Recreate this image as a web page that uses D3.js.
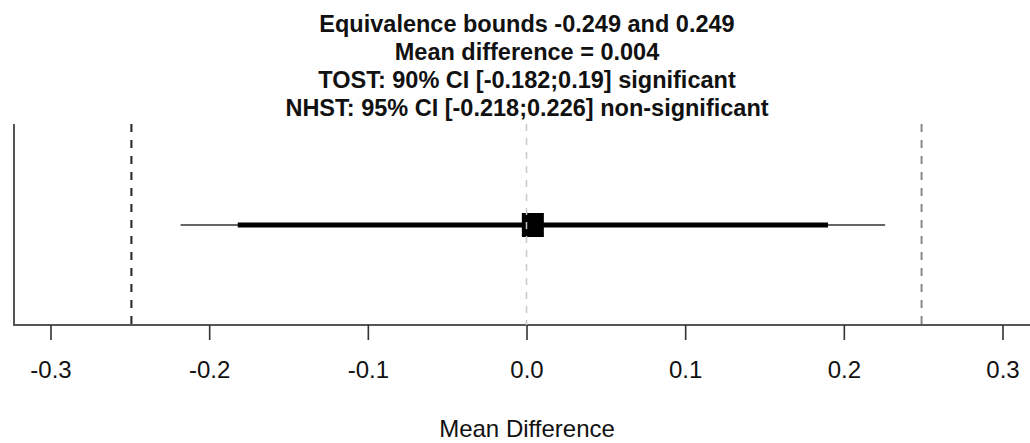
<!DOCTYPE html>
<html><head><meta charset="utf-8">
<script src="https://cdn.jsdelivr.net/npm/d3@7"></script>
<style>body{margin:0;background:#fff}svg{display:block}</style>
</head><body>
<svg id="c" width="1030" height="443"></svg>
<script>
const titleLines = ["Equivalence bounds -0.249 and 0.249","Mean difference = 0.004","TOST: 90% CI [-0.182;0.19] significant","NHST: 95% CI [-0.218;0.226] non-significant"];
const bounds = [-0.249, 0.249];
const boundColors = ["#222","#888"];
const meanDiff = [0.004];
const ci90 = [-0.182, 0.19];
const ci95 = [-0.218, 0.226];
const tickValues = [-0.3,-0.2,-0.1,0.0,0.1,0.2,0.3];
const tickLabels = ["-0.3","-0.2","-0.1","0.0","0.1","0.2","0.3"];
const xLabel = "Mean Difference";

const FONT = "Liberation Sans, Arial, sans-serif";
const svg = d3.select("#c");
const x = d3.scaleLinear().domain([-0.3,0.3]).range([50.5,1002.5]);
const y = d3.scaleLinear().domain([0,1]).range([325,124]);
const yMid = 225;

// title
svg.append("g").selectAll("text").data(titleLines).join("text")
  .attr("x",527).attr("y",(d,i)=>32+i*28).attr("text-anchor","middle")
  .attr("font-family",FONT).attr("font-weight","bold").attr("font-size","23.5px").attr("fill","#111").text(d=>d);

// frame: left and bottom
svg.append("path").attr("d",`M14,124V325H1030`).attr("fill","none").attr("stroke","#555").attr("stroke-width",2);

// bounds
svg.append("g").selectAll("line").data(bounds).join("line")
  .attr("x1",d=>x(d)).attr("x2",d=>x(d)).attr("y1",y(1)).attr("y2",y(0))
  .attr("stroke",(d,i)=>boundColors[i]).attr("stroke-width",2).attr("stroke-dasharray","8,8");

// CI lines
svg.append("line").attr("x1",x(ci95[0])).attr("x2",x(ci95[1])).attr("y1",yMid).attr("y2",yMid)
  .attr("stroke","#333").attr("stroke-width",1.6);
svg.append("line").attr("x1",x(ci90[0])).attr("x2",x(ci90[1])).attr("y1",yMid).attr("y2",yMid)
  .attr("stroke","#000").attr("stroke-width",5);

// mean square
svg.append("g").selectAll("rect").data(meanDiff).join("rect")
  .attr("x",d=>x(d)-11).attr("y",yMid-12).attr("width",22).attr("height",24).attr("fill","#000");

// zero line
svg.append("line").attr("x1",x(0)).attr("x2",x(0)).attr("y1",y(1)).attr("y2",y(0))
  .attr("stroke","#c8c8c8").attr("stroke-width",1.5).attr("stroke-dasharray","7,7");

// axis
const axis = d3.axisBottom(x).tickValues(tickValues).tickFormat((d,i)=>tickLabels[i]).tickSize(15).tickPadding(18);
const g = svg.append("g").attr("transform","translate(0,325)").call(axis)
  .attr("font-family",FONT).attr("font-size","24px");
g.select(".domain").remove();
g.selectAll(".tick line").attr("stroke","#333").attr("stroke-width",1.6);
g.selectAll(".tick text").attr("fill","#111").attr("dy",null).attr("y",53);

svg.append("text").attr("x",527).attr("y",437).attr("text-anchor","middle")
  .attr("font-family",FONT).attr("font-size","24px").attr("fill","#111").text(xLabel);
</script>
</body></html>
